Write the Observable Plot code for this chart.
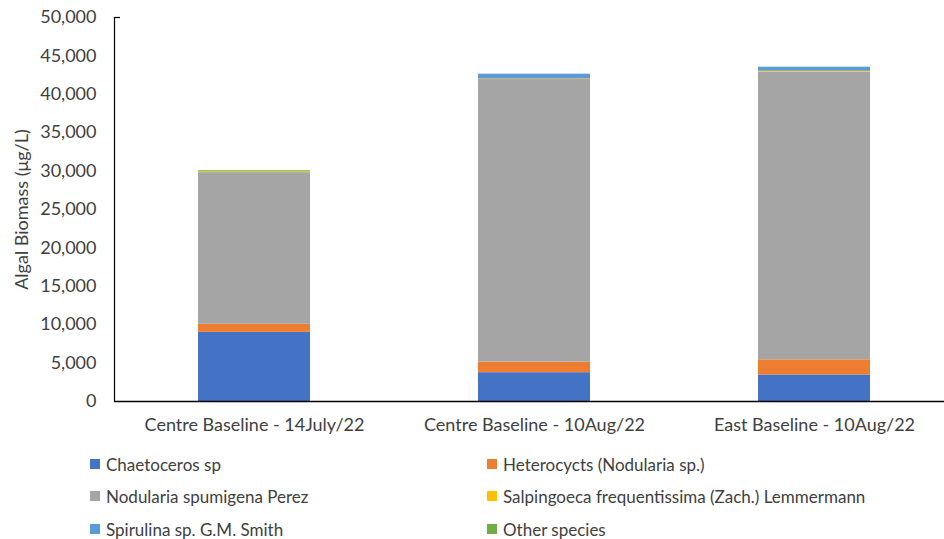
<!DOCTYPE html>
<html><head><meta charset="utf-8">
<script src="https://cdn.jsdelivr.net/npm/d3@7"></script>
<script src="https://cdn.jsdelivr.net/npm/@observablehq/plot@0.6"></script>
<style>
body{margin:0;background:#fff;font-family:Lato,sans-serif;}
#legend{position:relative;width:944px;height:94px;font-size:17px;color:#404040;}
.item{position:absolute;display:flex;align-items:center;white-space:nowrap;}
.sw{width:10px;height:10px;margin-right:6px;}
</style></head><body>
<div id="chart"></div>
<div id="legend"></div>
<script>
const categories = ["Centre Baseline - 14July/22","Centre Baseline - 10Aug/22","East Baseline - 10Aug/22"];
const species = ["Chaetoceros sp","Heterocycts (Nodularia sp.)","Nodularia spumigena Perez","Salpingoeca frequentissima (Zach.) Lemmermann","Spirulina sp. G.M. Smith","Other species"];
const colors = ["#4472C4","#ED7D31","#A5A5A5","#FFC000","#5B9BD5","#70AD47"];
const chaetoceros = [9000, 3750, 3450];
const heterocycts = [1050, 1380, 1980];
const nodularia = [19750, 36900, 37450];
const salpingoeca = [110, 30, 120];
const spirulina = [0, 560, 530];
const other = [130, 0, 0];
const yTicks = [0,5000,10000,15000,20000,25000,30000,35000,40000,45000,50000];

const series = [chaetoceros, heterocycts, nodularia, salpingoeca, spirulina, other];
const data = [];
species.forEach((s,i)=>categories.forEach((c,j)=>data.push({cat:c, species:s, value:series[i][j]})));

const fmt = d3.format(",");
const plot = Plot.plot({
  width: 944, height: 445,
  marginLeft: 114, marginRight: 0, marginTop: 17, marginBottom: 44,
  style: {fontFamily: "Lato, sans-serif", fontSize: "18px", color: "#404040", background: "#fff"},
  x: {domain: categories, range: [114, 954], paddingInner: 0.6, paddingOuter: 0.3, label: null},
  y: {domain: [0, 50000], ticks: yTicks, tickFormat: fmt, label: null},
  color: {domain: species, range: colors},
  marks: [
    Plot.barY(data, {x: "cat", y: "value", fill: "species", order: species}),
    Plot.axisX({tickSize: 0, tickPadding: 17, fontSize: 18, fill: "#404040"}),
    Plot.axisY({ticks: yTicks, tickFormat: fmt, tickSize: 0, tickPadding: 18, fontSize: 18, label: null, fill: "#404040"}),
    Plot.ruleY([0], {stroke: "#000", strokeWidth: 1.5}),
    Plot.text(["Algal Biomass (μg/L)"], {frameAnchor: "left", textAnchor: "middle", dx: -92, rotate: -90, fontSize: 18, fill: "#404040"})
  ]
});
const svg = d3.select(plot);
svg.append("line").attr("x1",114.5).attr("x2",114.5).attr("y1",17).attr("y2",401).attr("stroke","#000").attr("stroke-width",1.2);
svg.append("line").attr("x1",114.5).attr("x2",120).attr("y1",17.5).attr("y2",17.5).attr("stroke","#000").attr("stroke-width",1.2);
document.getElementById("chart").appendChild(plot);

const legend = document.getElementById("legend");
const pos = [[90,19],[487,19],[90,51],[487,51],[90,84],[487,84]];
species.forEach((s,i)=>{
  const d = document.createElement("div");
  d.className = "item";
  d.style.left = pos[i][0]+"px";
  d.style.top = (pos[i][1]-11)+"px";
  d.style.height = "22px";
  d.innerHTML = `<span class="sw" style="background:${colors[i]}"></span><span>${s}</span>`;
  legend.appendChild(d);
});
</script>
</body></html>
